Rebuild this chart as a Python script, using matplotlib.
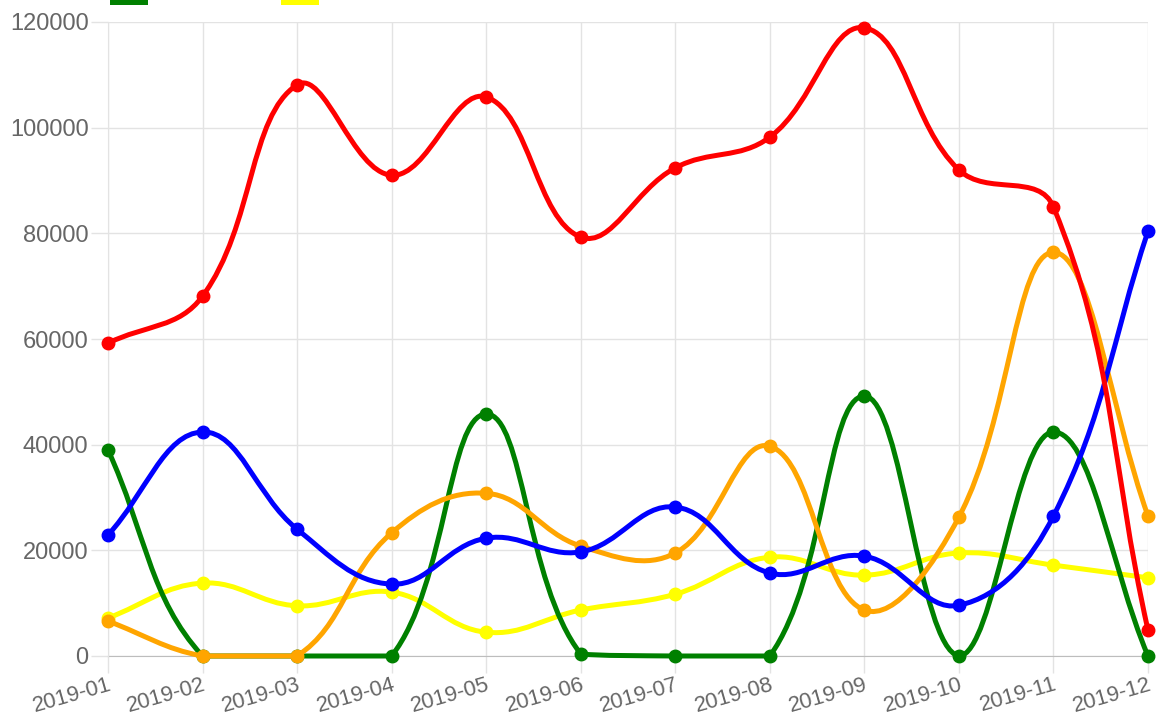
import numpy as np
import matplotlib
matplotlib.use("Agg")
import matplotlib.pyplot as plt
import matplotlib.transforms as mtransforms
from matplotlib.path import Path
from matplotlib.patches import PathPatch, Rectangle

plt.rcParams['font.family'] = ['Liberation Sans', 'DejaVu Sans']

months = ['2019-01', '2019-02', '2019-03', '2019-04', '2019-05', '2019-06',
          '2019-07', '2019-08', '2019-09', '2019-10', '2019-11', '2019-12']

red = [59200, 68100, 108100, 91000, 105800, 79300, 92400, 98200, 118900, 92000, 85000, 4900]
blue = [22900, 42400, 24000, 13600, 22300, 19700, 28200, 15700, 18900, 9600, 26500, 80400]
orange = [6600, 0, 0, 23300, 30800, 20800, 19500, 39700, 8700, 26300, 76400, 26500]
green = [39000, 0, 0, 0, 45800, 400, 0, 0, 49200, 0, 42400, 0]
yellow = [7200, 13800, 9500, 12100, 4500, 8700, 11700, 18700, 15300, 19500, 17200, 14800]

# drawn bottom first, so red ends on top
series = [(yellow, '#ffff00'), (green, '#008000'), (orange, '#ffa500'),
          (blue, '#0000ff'), (red, '#ff0000')]

W, H = 1158, 715
fig = plt.figure(figsize=(W / 100, H / 100), dpi=100)
ax = fig.add_axes([108 / W, (H - 656) / H, (1148 - 108) / W, (656 - 22) / H])

x = np.arange(len(months))
ax.set_xlim(0, len(months) - 1)
ax.set_ylim(0, 120000)


def spline_path(xs, ys, t=0.4):
    # chart.js style bezier, worked out in pixel space
    pts = ax.transData.transform(np.column_stack([xs, ys]))
    ymin = ax.transData.transform((0, 0))[1]
    ymax = ax.transData.transform((0, 120000))[1]
    n = len(pts)
    cprev, cnext = [], []
    for i in range(n):
        p0 = pts[i - 1] if i > 0 else pts[i]
        p1 = pts[i]
        p2 = pts[i + 1] if i < n - 1 else pts[i]
        d01 = np.hypot(*(p1 - p0))
        d12 = np.hypot(*(p2 - p1))
        tot = d01 + d12
        s01 = d01 / tot if tot else 0
        s12 = d12 / tot if tot else 0
        a = p1 - t * s01 * (p2 - p0)
        b = p1 + t * s12 * (p2 - p0)
        a[1] = min(max(a[1], ymin), ymax)
        b[1] = min(max(b[1], ymin), ymax)
        cprev.append(a)
        cnext.append(b)
    verts = [pts[0]]
    codes = [Path.MOVETO]
    for i in range(1, n):
        verts += [cnext[i - 1], cprev[i], pts[i]]
        codes += [Path.CURVE4] * 3
    inv = ax.transData.inverted()
    return Path(inv.transform(np.array(verts)), codes)


for z, (vals, col) in enumerate(series):
    patch = PathPatch(spline_path(x, vals), fill=False, edgecolor=col, lw=3.6,
                      zorder=3 + z, clip_on=False, capstyle='round', joinstyle='round')
    ax.add_patch(patch)
    ax.plot(x, vals, 'o', color=col, ms=9, zorder=3 + z, clip_on=False)

ax.set_yticks(np.arange(0, 120001, 20000))
ax.set_xticks(x)
ax.set_xticklabels(months, rotation=16, ha='right', va='top', rotation_mode='anchor',
                   fontsize=15.8)
offset = mtransforms.ScaledTranslation(-1 / 72, 0, fig.dpi_scale_trans)
for lab in ax.xaxis.get_majorticklabels():
    lab.set_transform(lab.get_transform() + offset)

ax.grid(True, color='#e3e3e3', lw=1, zorder=0)
ax.tick_params(axis='both', colors='#e3e3e3', labelcolor='#666666', length=12.5,
               width=1, pad=1.5)
ax.tick_params(axis='x', pad=0.5)
ax.tick_params(axis='y', labelsize=17)
for s in ['top', 'right']:
    ax.spines[s].set_visible(False)
ax.spines['left'].set_color('#e3e3e3')
ax.spines['bottom'].set_color('#bdbdbd')
ax.spines['bottom'].set_zorder(2)

# legend boxes cut off at the top edge of the picture
for x0, col in [(110, '#008000'), (281, '#ffff00')]:
    fig.add_artist(Rectangle((x0 / W, (H - 5) / H), 38 / W, 10 / H,
                             transform=fig.transFigure, facecolor=col, edgecolor='none'))

fig.savefig('out.png', dpi=100)
